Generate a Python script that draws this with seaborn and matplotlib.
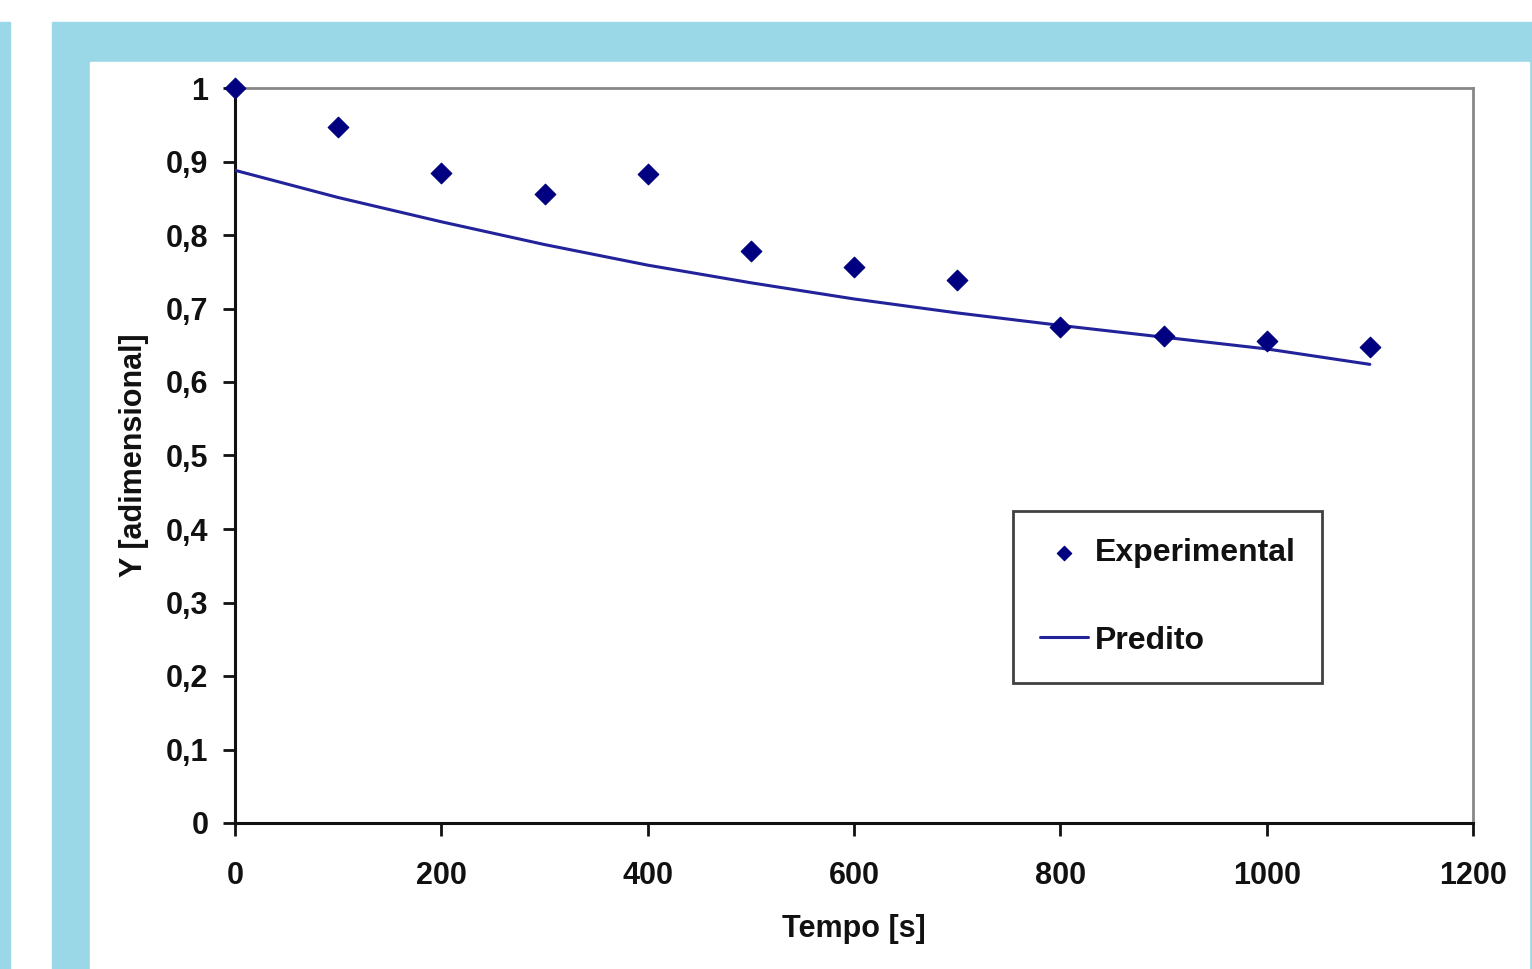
import matplotlib
matplotlib.use("Agg")
import matplotlib.pyplot as plt
import seaborn as sns
import pandas as pd
from matplotlib.patches import Rectangle
from matplotlib.ticker import FuncFormatter, MultipleLocator

# dados
tempo = [0, 100, 200, 300, 400, 500, 600, 700, 800, 900, 1000, 1100]
y_experimental = [1.0, 0.947, 0.884, 0.856, 0.883, 0.778, 0.756, 0.739, 0.675, 0.663, 0.656, 0.648]
y_predito = [0.888, 0.851, 0.818, 0.787, 0.759, 0.735, 0.713, 0.694, 0.677, 0.661, 0.645, 0.624]

df = pd.DataFrame({"tempo": tempo, "exp": y_experimental, "pred": y_predito})

sns.set_style("white")
plt.rcParams['font.family'] = ['Liberation Sans', 'DejaVu Sans']

W, H = 1532, 969
fig = plt.figure(figsize=(W / 100, H / 100), dpi=100)

azul = "#9AD8E8"
# moldura azul
fig.patches.append(Rectangle((0, 0), 10 / W, 1 - 22 / H, transform=fig.transFigure, color=azul, zorder=-10))
fig.patches.append(Rectangle((52 / W, 0), (W - 52) / W, 1 - 22 / H, transform=fig.transFigure, color=azul, zorder=-10))
fig.patches.append(Rectangle((90 / W, 0), (1529 - 90) / W, 1 - 62 / H, transform=fig.transFigure, color="white", zorder=-9))

ax = fig.add_axes([235 / W, 1 - 823 / H, (1473 - 235) / W, (823 - 88) / H])
ax.set_facecolor("none")
ax.set_zorder(5)

sns.lineplot(data=df, x="tempo", y="pred", ax=ax, color="#22229a", linewidth=2.2, label="Predito", zorder=3)
sns.scatterplot(data=df, x="tempo", y="exp", ax=ax, color="#000080", marker="D", s=110, edgecolor="#000080",
                label="Experimental", zorder=4, clip_on=False)

ax.set_xlim(0, 1200)
ax.set_ylim(0, 1)
ax.xaxis.set_major_locator(MultipleLocator(200))
ax.yaxis.set_major_locator(MultipleLocator(0.1))
ax.yaxis.set_major_formatter(FuncFormatter(lambda v, p: "0" if abs(v) < 1e-9 else ("1" if abs(v - 1) < 1e-9 else f"{v:.1f}".replace(".", ","))))

for s in ["left", "bottom"]:
    ax.spines[s].set_color("#111111")
    ax.spines[s].set_linewidth(2.2)
for s in ["top", "right"]:
    ax.spines[s].set_color("#888888")
    ax.spines[s].set_linewidth(2)

ax.tick_params(axis="both", bottom=True, left=True, direction="out", length=9, width=2,
               color="#111111", labelsize=22, pad=10)
ax.tick_params(axis="x", pad=18)
for lab in ax.get_xticklabels() + ax.get_yticklabels():
    lab.set_fontweight("bold")
    lab.set_color("#111111")

ax.set_xlabel("Tempo [s]", fontsize=22, fontweight="bold", labelpad=17, color="#111111")
ax.set_ylabel("Y [adimensional]", fontsize=22, fontweight="bold", labelpad=12, color="#111111")

handles, labels = ax.get_legend_handles_labels()
order = [labels.index("Experimental"), labels.index("Predito")]
leg = ax.legend([handles[i] for i in order], [labels[i] for i in order],
                loc="upper left", bbox_to_anchor=(1013 / W, 1 - 511 / H), bbox_transform=fig.transFigure,
                fancybox=False, frameon=True, edgecolor="#111111", fontsize=23,
                handlelength=1.5, handletextpad=0.2, labelspacing=1.8, borderpad=0.85,
                borderaxespad=0, markerscale=0.7)
leg.get_frame().set_linewidth(2)
for t in leg.get_texts():
    t.set_fontweight("bold")
    t.set_color("#111111")

fig.savefig("out.png", dpi=100)
